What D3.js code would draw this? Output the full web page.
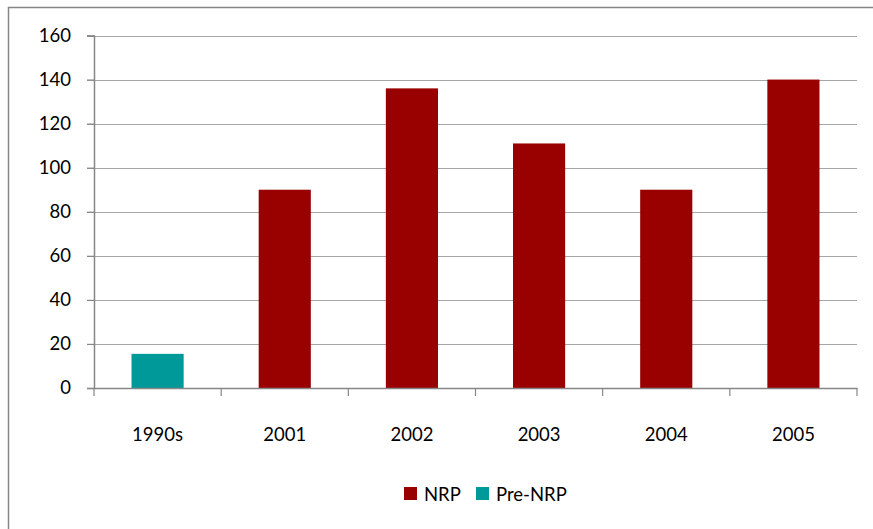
<!DOCTYPE html>
<html>
<head>
<meta charset="utf-8">
<script src="https://cdn.jsdelivr.net/npm/d3@7"></script>
<style>
  body { margin: 0; background: #fff; }
  text { font-family: Lato, 'Open Sans', sans-serif; fill: #000; }
</style>
</head>
<body>
<svg id="chart" width="873" height="529"></svg>
<script>
const categories = ['1990s', '2001', '2002', '2003', '2004', '2005']
const series = ['NRP', 'Pre-NRP']
const values = [15.5, 90, 136, 111, 90, 140]
const seriesOf = ['Pre-NRP', 'NRP', 'NRP', 'NRP', 'NRP', 'NRP']
const yTicks = [0, 20, 40, 60, 80, 100, 120, 140, 160]

const colors = { NRP: '#990000', 'Pre-NRP': '#009999' }

const svg = d3.select('#chart')
const margin = { left: 94, right: 16, top: 35.5, bottom: 141 }
const width = 873, height = 529

// outer chart border (runs off the canvas right and bottom)
svg.append('rect')
  .attr('x', 8.5).attr('y', 7.5)
  .attr('width', 900).attr('height', 600)
  .attr('fill', 'none').attr('stroke', '#868686').attr('stroke-width', 1.5)

const x = d3.scaleBand()
  .domain(categories)
  .range([margin.left, 857])
  .paddingInner(0).paddingOuter(0)

const y = d3.scaleLinear()
  .domain([0, 160])
  .range([388, margin.top])

// gridlines
svg.append('g')
  .selectAll('line')
  .data(yTicks.filter((d) => d > 0))
  .join('line')
  .attr('x1', 87).attr('x2', 857)
  .attr('y1', (d) => Math.round(y(d)) + 0.5)
  .attr('y2', (d) => Math.round(y(d)) + 0.5)
  .attr('stroke', '#a6a6a6').attr('stroke-width', 1.2)

// bars
const bw = x.bandwidth() * 0.41
svg.append('g')
  .selectAll('rect')
  .data(values)
  .join('rect')
  .attr('x', (d, i) => x(categories[i]) + x.bandwidth() / 2 - bw / 2)
  .attr('width', bw)
  .attr('y', (d) => y(d))
  .attr('height', (d) => y(0) - y(d))
  .attr('fill', (d, i) => colors[seriesOf[i]])

// y axis
const yAxis = svg.append('g')
  .attr('transform', `translate(${margin.left},0)`)
  .call(d3.axisLeft(y).tickValues(yTicks).tickSize(7).tickPadding(16))
yAxis.select('.domain').attr('stroke', '#868686').attr('stroke-width', 1.5)
yAxis.selectAll('.tick line').attr('stroke', '#868686').attr('stroke-width', 1.2)
yAxis.selectAll('text').attr('font-size', 18.5).attr('fill', '#000')
  .style('font-family', 'Lato, sans-serif')

// x axis
const xAxis = svg.append('g')
  .attr('transform', `translate(0,${y(0)})`)
  .call(d3.axisBottom(x).tickSize(0).tickPadding(40))
xAxis.select('.domain').attr('stroke', '#868686').attr('stroke-width', 1.5)
xAxis.selectAll('text').attr('font-size', 18.5).attr('fill', '#000')
  .style('font-family', 'Lato, sans-serif')
xAxis.selectAll('.tick line').remove()
// category boundary ticks
xAxis.append('g')
  .selectAll('line')
  .data(categories.map((c) => x(c)).concat([x.range()[1]]))
  .join('line')
  .attr('x1', (d) => d).attr('x2', (d) => d)
  .attr('y1', 0).attr('y2', 8)
  .attr('stroke', '#868686').attr('stroke-width', 1.2)

// legend
const legend = svg.append('g').attr('transform', 'translate(404,487)')
const offsets = [0, 72]
series.forEach((s, i) => {
  const g = legend.append('g').attr('transform', `translate(${offsets[i]},0)`)
  g.append('rect').attr('width', 13).attr('height', 13).attr('fill', colors[s])
  g.append('text').attr('x', 20).attr('y', 14).attr('font-size', 18.5).text(s)
})
</script>
</body>
</html>
